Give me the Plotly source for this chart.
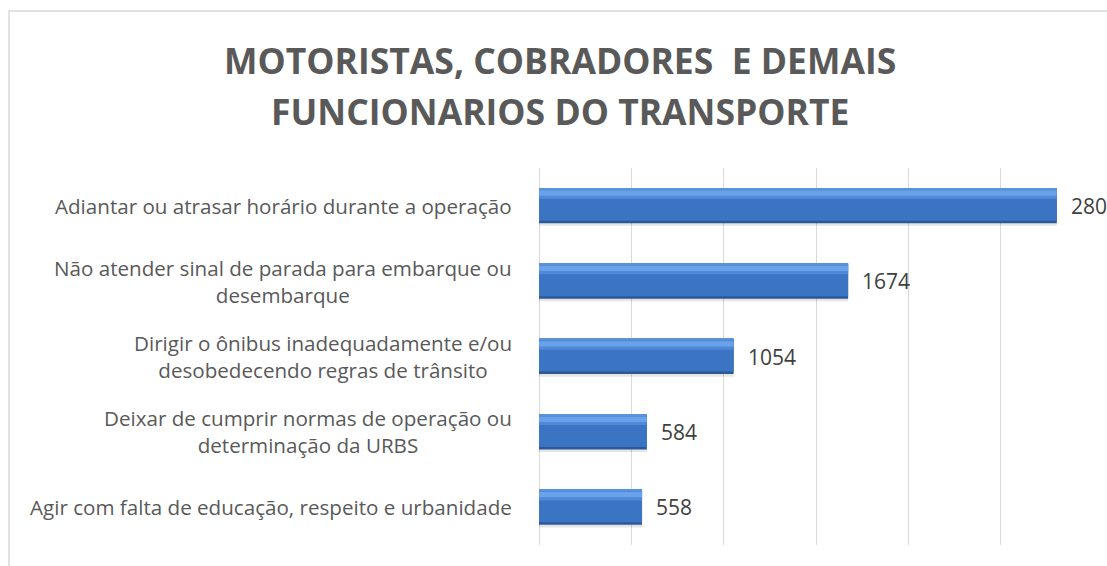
import plotly.graph_objects as go

# ---- data ----
categories = [
    "Adiantar ou atrasar horário durante a operação",
    "Não atender sinal de parada para embarque ou<br>desembarque",
    "Dirigir o ônibus inadequadamente e/ou<br>desobedecendo regras de trânsito",
    "Deixar de cumprir normas de operação ou<br>determinação da URBS",
    "Agir com falta de educação, respeito e urbanidade",
]
values = [2804, 1674, 1054, 584, 558]
title_lines = ["MOTORISTAS, COBRADORES\u00a0 E DEMAIS", "FUNCIONARIOS DO TRANSPORTE"]
x_max = 3000
x_step = 500

# ---- styling ----
FONT = "Open Sans"
GRID = "#d9d9d9"
TXT = "#595959"
LBL = "#404040"
BW = 0.465          # bar thickness in category units
TOP = -BW / 2       # offset of bar top (y axis reversed)

fig = go.Figure()

def layer(color, off, width):
    fig.add_trace(go.Bar(
        x=values, y=categories, orientation="h",
        marker=dict(color=color, line=dict(width=0)),
        offset=off, width=width, hoverinfo="skip", showlegend=False,
    ))

# soft drop shadow, dark base, body, highlight band, top edge
layer("rgba(0,0,0,0.10)", TOP + 0.035, BW)
layer("#2c5996", TOP, BW)
layer("#3b74c3", TOP + 0.012, BW - 0.045)
layer("#4f89d7", TOP + 0.012, 0.13)
layer("#69a2e8", TOP + 0.03, 0.07)
layer("#5a92dc", TOP, 0.014)

annotations = []
# category labels (centered multi-line, right anchored)
for c in categories:
    annotations.append(dict(
        x=0, xref="paper", y=c, yref="y", xanchor="right", yanchor="middle",
        xshift=-25, text=c, showarrow=False, align="center",
        font=dict(family=FONT, size=20.6, color=TXT),
    ))
# data labels
for c, v in zip(categories, values):
    annotations.append(dict(
        x=v, xref="x", y=c, yref="y", xanchor="left", yanchor="middle",
        xshift=12, text=str(v), showarrow=False,
        font=dict(family=FONT, size=21, color=LBL),
    ))
# title (two lines)
for t, ty in zip(title_lines, [1.287, 1.150]):
    annotations.append(dict(
        x=0.5, xref="paper", y=ty, yref="paper",
        xanchor="center", yanchor="middle", xshift=-256,
        text="<b>" + t + "</b>", showarrow=False,
        font=dict(family=FONT, size=35.5, color=TXT),
    ))

fig.update_layout(
    width=1107, height=566,
    margin=dict(l=539, r=14, t=168, b=21, pad=0),
    paper_bgcolor="white", plot_bgcolor="white",
    barmode="overlay",
    xaxis=dict(range=[0, x_max], dtick=x_step, showticklabels=False,
               showgrid=True, gridcolor=GRID, gridwidth=1,
               zeroline=True, zerolinecolor=GRID, zerolinewidth=1,
               showline=False, fixedrange=True),
    yaxis=dict(autorange="reversed", showticklabels=False, showgrid=False,
               zeroline=False, showline=False, fixedrange=True),
    annotations=annotations,
    shapes=[dict(type="rect", xref="paper", yref="paper",
                 x0=-0.9567, x1=1.2, y0=-0.3, y1=1.4165,
                 line=dict(color=GRID, width=1.5), fillcolor="rgba(0,0,0,0)",
                 layer="below")],
    showlegend=False,
)

fig.write_html(
    "out.html",
    config={"displayModeBar": False},
    post_script="document.body.style.margin='0';document.body.style.padding='0';"
                "document.body.style.overflow='hidden';",
)
